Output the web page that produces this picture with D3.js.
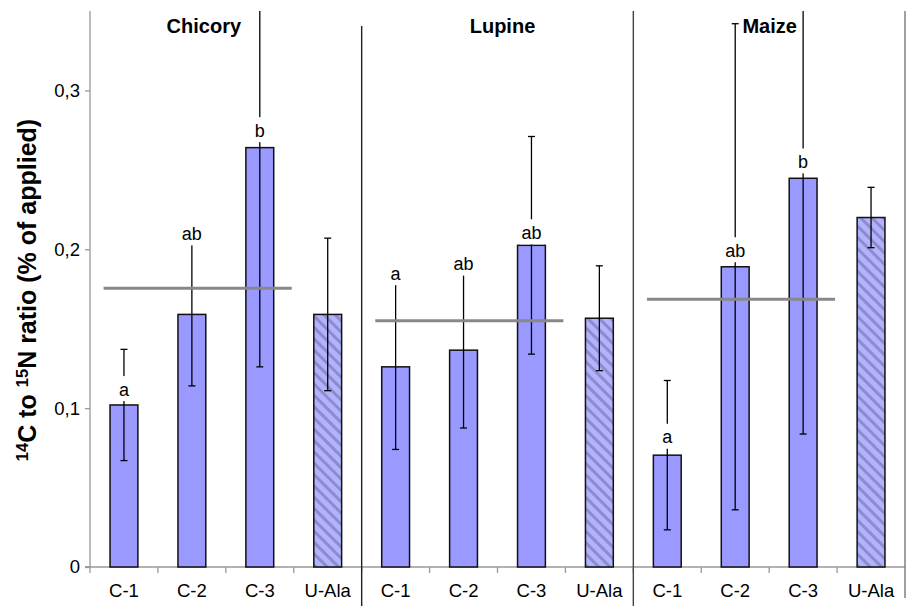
<!DOCTYPE html>
<html><head><meta charset="utf-8">
<script src="https://cdn.jsdelivr.net/npm/d3@7"></script>
<style>body{margin:0;background:#fff}svg{display:block}text{font-family:"Liberation Sans",Arial,sans-serif}</style>
</head><body><svg id="c" width="907" height="606"></svg>
<script>
const groups = ["Chicory", "Lupine", "Maize"];
const categories = ["C-1", "C-2", "C-3", "U-Ala"];
const chicoryValues = [0.102, 0.159, 0.264, 0.159];
const lupineValues  = [0.126, 0.1365, 0.2025, 0.1566];
const maizeValues   = [0.0704, 0.189, 0.2447, 0.220];
const chicoryErr = [0.035, 0.045, 0.138, 0.048];
const lupineErr  = [0.052, 0.049, 0.0685, 0.033];
const maizeErr   = [0.047, 0.153, 0.161, 0.019];
const chicoryLetters = ["a", "ab", "b", ""];
const lupineLetters  = ["a", "ab", "ab", ""];
const maizeLetters   = ["a", "ab", "b", ""];
const chicoryLetterPos = [0.112, 0.210, 0.275, null];
const lupineLetterPos  = [0.185, 0.191, 0.2107, null];
const maizeLetterPos   = [0.082, 0.1994, 0.2553, null];
const meanLine = [0.1755, 0.155, 0.1686];
const yTicks = [0, 0.1, 0.2, 0.3];

const values = [chicoryValues, lupineValues, maizeValues];
const errs = [chicoryErr, lupineErr, maizeErr];
const letters = [chicoryLetters, lupineLetters, maizeLetters];
const letterPos = [chicoryLetterPos, lupineLetterPos, maizeLetterPos];

const rows = [];
groups.forEach((g, gi) => categories.forEach((c, ci) => rows.push({
  key: g + "|" + c, group: g, gi, cat: c, ci,
  v: values[gi][ci], e: errs[gi][ci], lab: letters[gi][ci], lp: letterPos[gi][ci]
})));

const svg = d3.select("#c");
const pL = 90, pR = 905, pT = 11, pB = 567;
const x = d3.scaleBand().domain(rows.map(d => d.key)).range([pL, pR]).paddingInner(0.59).paddingOuter(0.295);
const y = d3.scaleLinear().domain([0, 0.35]).range([pB, pT]);
const step = x.step(), bw = x.bandwidth();

const defs = svg.append("defs");
const pat = defs.append("pattern").attr("id", "hatch").attr("patternUnits", "userSpaceOnUse")
  .attr("width", 8).attr("height", 8).attr("patternTransform", "rotate(45)");
pat.append("rect").attr("width", 8).attr("height", 8).attr("fill", "#b2b2ff");
pat.append("rect").attr("width", 8).attr("height", 3).attr("fill", "#8c8cca");
defs.append("clipPath").attr("id", "clip").append("rect")
  .attr("x", pL).attr("y", pT).attr("width", pR - pL).attr("height", pB - pT + 50);

// y axis
const yAxis = svg.append("g").attr("transform", `translate(${pL},0)`)
  .call(d3.axisLeft(y).tickValues(yTicks).tickSize(5).tickPadding(5)
    .tickFormat(d => d === 0 ? "0" : d3.format(".1f")(d).replace(".", ",")));
yAxis.select(".domain").attr("stroke", "#999").attr("stroke-width", 1.3).attr("d", `M-5,${pB}H0V${pT}`);
yAxis.selectAll(".tick line").attr("stroke", "#999").attr("stroke-width", 1.3);
yAxis.selectAll(".tick text").attr("font-size", 18.5).attr("fill", "#000");

// x axis
const xAxis = svg.append("g").attr("transform", `translate(0,${pB})`)
  .call(d3.axisBottom(x).tickSize(0).tickPadding(17).tickFormat(k => k.split("|")[1]));
xAxis.select(".domain").attr("stroke", "#999").attr("stroke-width", 1.3).attr("d", `M${pL - 5},0H${pR}`);
xAxis.selectAll(".tick text").attr("font-size", 18.5).attr("fill", "#000");
const bounds = rows.map(d => x(d.key) - (step - bw) / 2);
svg.append("g").selectAll("line").data(bounds).join("line")
  .attr("x1", d => d).attr("x2", d => d).attr("y1", pB).attr("y2", pB + 6)
  .attr("stroke", "#999").attr("stroke-width", 1.3);

// separators
const sepX = [1, 2, 3].map(i => pL + i * 4 * step);
const sepTop = [26, 11, 11], sepBot = [606, 606, 598], sepCol = ["#222", "#444", "#777"];
svg.append("g").selectAll("line").data(sepX).join("line")
  .attr("x1", d => d).attr("x2", d => d).attr("y1", (d, i) => sepTop[i]).attr("y2", (d, i) => sepBot[i])
  .attr("stroke", (d, i) => sepCol[i]).attr("stroke-width", 1.4);

// bars
svg.append("g").selectAll("rect").data(rows).join("rect")
  .attr("x", d => x(d.key)).attr("width", bw)
  .attr("y", d => y(d.v)).attr("height", d => y(0) - y(d.v))
  .attr("fill", d => d.cat === "U-Ala" ? "url(#hatch)" : "#9999ff")
  .attr("stroke", "#111").attr("stroke-width", 1.5);

// error bars
const eb = svg.append("g").attr("clip-path", "url(#clip)").attr("stroke", "#000").attr("stroke-width", 1.3);
rows.forEach(d => {
  const cx = x(d.key) + bw / 2;
  eb.append("line").attr("x1", cx).attr("x2", cx).attr("y1", y(d.v - d.e)).attr("y2", y(d.v + d.e));
  [d.v - d.e, d.v + d.e].forEach(v => eb.append("line")
    .attr("x1", cx - 3.5).attr("x2", cx + 3.5).attr("y1", y(v)).attr("y2", y(v)));
});

// mean lines
svg.append("g").selectAll("line").data(groups).join("line")
  .attr("x1", g => x(g + "|C-1") + bw / 2 - step * 0.3)
  .attr("x2", g => x(g + "|C-3") + bw / 2 + step * 0.47)
  .attr("y1", (g, i) => y(meanLine[i])).attr("y2", (g, i) => y(meanLine[i]))
  .attr("stroke", "#888").attr("stroke-width", 3);

// letters with white background
const lg = svg.append("g");
rows.filter(d => d.lab).forEach(d => {
  const cx = x(d.key) + bw / 2, cy = y(d.lp);
  const w = d.lab.length * 10 + 4;
  lg.append("rect").attr("x", cx - w / 2).attr("y", cy - 13).attr("width", w).attr("height", 25).attr("fill", "#fff");
  lg.append("text").attr("x", cx).attr("y", cy + 6.5).attr("text-anchor", "middle")
    .attr("font-size", 18).text(d.lab);
});

// group titles
svg.append("g").selectAll("text").data(groups).join("text")
  .attr("x", (g, i) => pL + (i * 4 + 2) * step + [-22, 5, 0.5][i])
  .attr("y", 33).attr("text-anchor", "middle").attr("font-size", 20).attr("font-weight", "bold")
  .text(d => d);

// y title
const yt = svg.append("text").attr("transform", "translate(36,290) rotate(-90)")
  .attr("text-anchor", "middle").attr("font-size", 25).attr("font-weight", "bold");
yt.append("tspan").attr("font-size", 16.5).attr("dy", -8).text("14");
yt.append("tspan").attr("dy", 8).text("C to ");
yt.append("tspan").attr("font-size", 16.5).attr("dy", -8).text("15");
yt.append("tspan").attr("dy", 8).text("N ratio (% of applied)");
</script></body></html>
